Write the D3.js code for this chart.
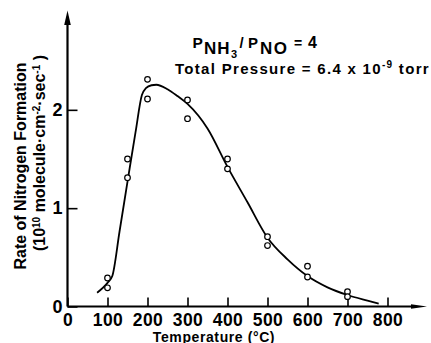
<!DOCTYPE html>
<html>
<head>
<meta charset="utf-8">
<script src="https://cdn.jsdelivr.net/npm/d3@7"></script>
<style>
  html, body { margin: 0; padding: 0; background: #fff; }
  svg { display: block; font-family: "Liberation Sans", Arial, sans-serif; font-weight: bold; }
</style>
</head>
<body>
<div id="chart"></div>
<script>
// measured points (two runs at each temperature)
const obsTemp = [100, 100, 150, 150, 200, 200, 300, 300, 400, 400, 500, 500, 600, 600, 700, 700];
const obsRate = [0.29, 0.19, 1.50, 1.31, 2.31, 2.11, 2.10, 1.91, 1.50, 1.40, 0.71, 0.62, 0.41, 0.30, 0.15, 0.10];

// hand drawn fit curve
const fitTemp = [74, 100, 112, 130, 152, 170, 186, 196, 210, 222, 250, 275, 300, 350, 400, 450, 500, 550, 600, 650, 700, 750, 778];
const fitRate = [0.14, 0.24, 0.31, 0.76, 1.32, 1.77, 2.15, 2.22, 2.25, 2.255, 2.21, 2.14, 2.06, 1.81, 1.42, 1.06, 0.70, 0.48, 0.31, 0.195, 0.117, 0.06, 0.03];

const tempTicks = [0, 100, 200, 300, 400, 500, 600, 700, 800];
const rateTicks = [0, 1, 2];

const W = 431, H = 343;

const svg = d3.select("#chart")
    .append("svg")
    .attr("width", W)
    .attr("height", H);

// scales (origin at 67.5, 306.5)
const x = d3.scaleLinear().domain([0, 800]).range([67.5, 387.5]);
const y = d3.scaleLinear().domain([0, 3]).range([306.5, 11.5]);

// x axis, ticks pointing up into the plot
const xAxis = svg.append("g")
    .attr("transform", "translate(0," + y(0) + ")")
    .call(d3.axisBottom(x).tickValues(tempTicks).tickFormat(d3.format("d"))
        .tickSizeInner(-9).tickSizeOuter(0).tickPadding(7));
xAxis.select(".domain").remove();
xAxis.selectAll("line").attr("stroke", "#000").attr("stroke-width", 1.6);
xAxis.selectAll("text")
    .attr("fill", "#000")
    .style("font-size", "17.5px")
    .style("font-family", "Liberation Sans, Arial, sans-serif")
    .style("font-weight", "bold")
    .style("letter-spacing", "0.5px");

// y axis, ticks pointing right
const yAxis = svg.append("g")
    .attr("transform", "translate(" + x(0) + ",0)")
    .call(d3.axisLeft(y).tickValues(rateTicks).tickFormat(d3.format("d"))
        .tickSizeInner(-10).tickSizeOuter(0).tickPadding(5));
yAxis.select(".domain").remove();
yAxis.selectAll("line").attr("stroke", "#000").attr("stroke-width", 1.6);
yAxis.selectAll("text")
    .attr("fill", "#000")
    .style("font-size", "18px")
    .style("font-family", "Liberation Sans, Arial, sans-serif")
    .style("font-weight", "bold");

// axis lines with arrow heads
svg.append("line")
    .attr("x1", x(0)).attr("x2", 414)
    .attr("y1", y(0)).attr("y2", y(0))
    .attr("stroke", "#000").attr("stroke-width", 2.2);
svg.append("path")
    .attr("d", "M411," + (y(0) - 2.2) + " L427," + y(0) + " L411," + (y(0) + 2.2) + " Z")
    .attr("fill", "#000");

svg.append("line")
    .attr("x1", x(0)).attr("x2", x(0))
    .attr("y1", y(0)).attr("y2", 22)
    .attr("stroke", "#000").attr("stroke-width", 2.2);
svg.append("path")
    .attr("d", "M" + (x(0) - 3.3) + ",25 L" + x(0) + ",10.5 L" + (x(0) + 3.3) + ",25 Z")
    .attr("fill", "#000");

// fit curve
const fit = fitTemp.map((t, i) => [t, fitRate[i]]);
svg.append("path")
    .datum(fit)
    .attr("fill", "none")
    .attr("stroke", "#000")
    .attr("stroke-width", 1.8)
    .attr("d", d3.line()
        .x(d => x(d[0]))
        .y(d => y(d[1]))
        .curve(d3.curveMonotoneX));

// data points
const obs = obsTemp.map((t, i) => [t, obsRate[i]]);
svg.selectAll("circle.obs")
    .data(obs)
    .enter()
    .append("circle")
    .attr("class", "obs")
    .attr("cx", d => x(d[0]))
    .attr("cy", d => y(d[1]))
    .attr("r", 2.8)
    .attr("fill", "#fff")
    .attr("stroke", "#000")
    .attr("stroke-width", 1.2);

// axis titles
svg.append("text")
    .attr("x", 214).attr("y", 341.5)
    .attr("text-anchor", "middle")
    .style("font-size", "14px")
    .style("letter-spacing", "0.6px")
    .text("Temperature (°C)");

svg.append("text")
    .attr("transform", "translate(26,166) rotate(-90)")
    .attr("text-anchor", "middle")
    .style("font-size", "16px")
    .text("Rate of Nitrogen Formation");

const yl2 = svg.append("text")
    .attr("transform", "translate(45,153) rotate(-90)")
    .attr("text-anchor", "middle")
    .style("font-size", "16px");
yl2.append("tspan").text("(10");
yl2.append("tspan").attr("dy", -5).style("font-size", "10px").text("10");
yl2.append("tspan").attr("dy", 5).text(" molecule·cm");
yl2.append("tspan").attr("dy", -5).style("font-size", "10px").text("-2");
yl2.append("tspan").attr("dy", 5).text("·sec");
yl2.append("tspan").attr("dy", -5).style("font-size", "10px").text("-1");
yl2.append("tspan").attr("dy", 5).text(" )");

// annotation: P_NH3 / P_NO = 4
const ann = svg.append("g");
ann.append("text").attr("x", 192.5).attr("y", 47.5).style("font-size", "15.5px").text("P");
ann.append("text").attr("x", 204).attr("y", 53.5).style("font-size", "17px").style("letter-spacing", "1px").text("NH");
ann.append("text").attr("x", 231).attr("y", 58).style("font-size", "11px").text("3");
ann.append("text").attr("x", 239.5).attr("y", 47.5).style("font-size", "15px").text("/");
ann.append("text").attr("x", 248).attr("y", 47.5).style("font-size", "15px").text("P");
ann.append("text").attr("x", 260).attr("y", 53.5).style("font-size", "17px").style("letter-spacing", "1.5px").text("NO");
ann.append("text").attr("x", 294).attr("y", 47.5).style("font-size", "14px").text("=");
ann.append("text").attr("x", 308).attr("y", 47.5).style("font-size", "16px").text("4");

const tp = svg.append("text")
    .attr("x", 175).attr("y", 74)
    .style("font-size", "15px")
    .style("letter-spacing", "1.3px");
tp.append("tspan").text("Total Pressure = 6.4 x 10");
tp.append("tspan").attr("dy", -6).style("font-size", "10px").text("-9");
tp.append("tspan").attr("dy", 6).text(" torr");
</script>
</body>
</html>
